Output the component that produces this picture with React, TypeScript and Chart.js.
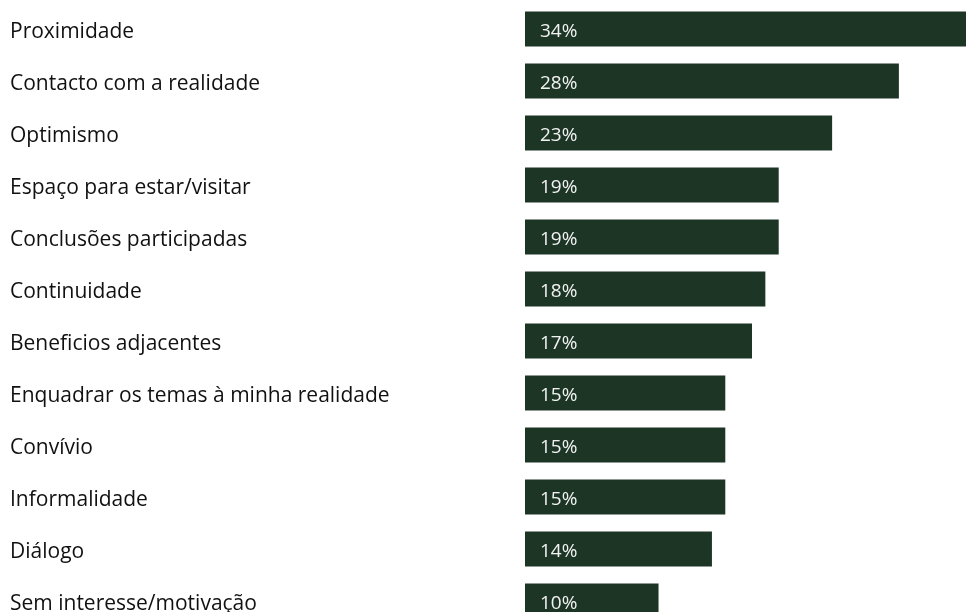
import React, { useEffect, useRef } from "react";
import { Chart, registerables } from "chart.js";

Chart.register(...registerables);

const categories = [
  "Proximidade",
  "Contacto com a realidade",
  "Optimismo",
  "Espaço para estar/visitar",
  "Conclusões participadas",
  "Continuidade",
  "Beneficios adjacentes",
  "Enquadrar os temas à minha realidade",
  "Convívio",
  "Informalidade",
  "Diálogo",
  "Sem interesse/motivação",
];
const values = [34, 28, 23, 19, 19, 18, 17, 15, 15, 15, 14, 10];
const barColor = "#1c3525";

const valueLabels = {
  id: "valueLabels",
  afterDatasetsDraw(chart: any) {
    const ctx = chart.ctx;
    const meta = chart.getDatasetMeta(0);
    ctx.save();
    ctx.font = "19px 'Open Sans'";
    ctx.fillStyle = "#f2f2f2";
    ctx.textAlign = "left";
    ctx.textBaseline = "middle";
    meta.data.forEach((bar: any, i: number) => {
      ctx.fillText(values[i] + "%", bar.base + 15, bar.y + 3);
    });
    ctx.restore();
  },
};

export default function App() {
  const ref = useRef<HTMLCanvasElement>(null);
  useEffect(() => {
    document.body.style.margin = "0";
    const chart = new Chart(ref.current!, {
      type: "bar",
      data: {
        labels: categories,
        datasets: [
          {
            data: values,
            backgroundColor: barColor,
            borderWidth: 0,
            categoryPercentage: 1,
            barPercentage: 35 / 52,
          },
        ],
      },
      options: {
        indexAxis: "y",
        animation: false,
        responsive: false,
        layout: { padding: { left: 10, top: 3, right: 1, bottom: 0 } },
        plugins: { legend: { display: false }, tooltip: { enabled: false } },
        scales: {
          x: { display: false, min: 0, max: 34 },
          y: {
            grid: { display: false },
            border: { display: false },
            ticks: {
              crossAlign: "far",
              color: "#111111",
              font: { family: "'Open Sans'", size: 21 },
              padding: 0,
              labelOffset: 3,
            },
            afterFit(scale: any) {
              scale.width = 515;
              scale.paddingTop = 0;
              scale.paddingBottom = 0;
            },
          },
        },
      },
      plugins: [valueLabels],
    });
    return () => chart.destroy();
  }, []);
  return (
    <div style={{ position: "fixed", left: 0, top: 0, width: 966, height: 612, overflow: "hidden", background: "#fff" }}>
      <canvas ref={ref} width={980} height={627} style={{ display: "block" }} />
    </div>
  );
}
